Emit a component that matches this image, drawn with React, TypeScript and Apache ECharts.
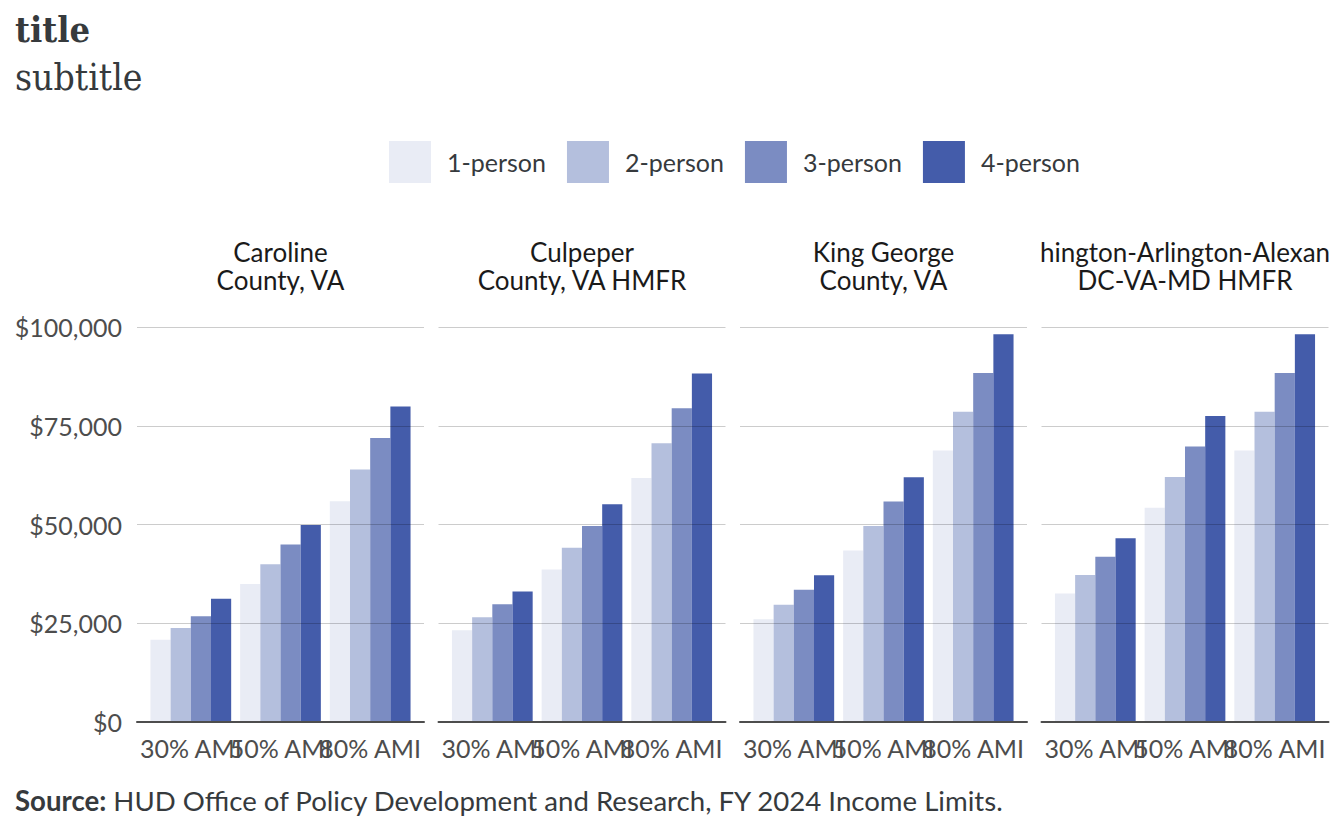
import React, { useEffect, useRef } from "react";
import * as echarts from "echarts";

const categories = ["30% AMI", "50% AMI", "80% AMI"];
const persons = ["1-person", "2-person", "3-person", "4-person"];
const personColors = ["#e9ecf5", "#b4bfdd", "#7b8cc2", "#445caa"];
const areaLabels = [
  "Caroline\nCounty, VA",
  "Culpeper\nCounty, VA HMFR",
  "King George\nCounty, VA",
  "hington-Arlington-Alexan\nDC-VA-MD HMFR",
];
const yTicks = [0, 25000, 50000, 75000, 100000];

// values per person: [30% AMI, 50% AMI, 80% AMI]
const carolineValues = [
  [20800, 34950, 55900],
  [23800, 39950, 63900],
  [26800, 44950, 71900],
  [31200, 49900, 79850],
];
const culpeperValues = [
  [23200, 38600, 61800],
  [26500, 44100, 70600],
  [29800, 49650, 79450],
  [33050, 55150, 88250],
];
const kingGeorgeValues = [
  [26000, 43400, 68750],
  [29700, 49600, 78550],
  [33450, 55800, 88350],
  [37150, 61950, 98150],
];
const washingtonValues = [
  [32550, 54250, 68750],
  [37200, 62000, 78550],
  [41850, 69750, 88350],
  [46500, 77450, 98150],
];
const areaValues = [carolineValues, culpeperValues, kingGeorgeValues, washingtonValues];

const FONT = "Lato, 'Noto Sans', sans-serif";
const SERIF = "'DejaVu Serif Condensed', 'DejaVu Serif', serif";

function buildOption() {
  const panelLeft0 = 137;
  const pitch = 301.5;
  const panelW = 287;
  const top = 327;
  const h = 395;
  const unit = panelW / 3.2;

  const grid: any[] = [];
  const xAxis: any[] = [];
  const yAxis: any[] = [];
  const series: any[] = [];
  const graphic: any[] = [];

  areaLabels.forEach((_, i) => {
    grid.push({ left: panelLeft0 + i * pitch, top, width: panelW, height: h });
  });
  areaLabels.forEach((_, i) => {
    grid.push({ left: panelLeft0 + i * pitch + unit * 0.1, top, width: unit * 3, height: h });
  });

  areaLabels.forEach((label, i) => {
    xAxis.push({
      gridIndex: i,
      type: "value",
      min: 0,
      max: 1,
      z: 5,
      axisLine: { show: true, onZero: false, lineStyle: { color: "#4d4d4d", width: 2 } },
      axisTick: { show: false },
      axisLabel: { show: false },
      splitLine: { show: false },
    });
    yAxis.push({
      gridIndex: i,
      type: "value",
      min: yTicks[0],
      max: yTicks[yTicks.length - 1],
      interval: 25000,
      z: 5,
      axisLine: { show: false },
      axisTick: { show: false },
      axisLabel: {
        show: i === 0,
        fontFamily: FONT,
        fontSize: 25,
        color: "#4d4d4d",
        margin: 15,
        formatter: (v: number) => "$" + v.toLocaleString("en-US"),
      },
      splitLine: { show: true, lineStyle: { color: "rgba(0,0,0,0.2)", width: 1 } },
    });
    label.split("\n").forEach((line, li) => {
      graphic.push({
        type: "text",
        x: panelLeft0 + i * pitch + panelW / 2,
        y: 252 + li * 28,
        style: {
          text: line,
          align: "center",
          verticalAlign: "middle",
          fontFamily: FONT,
          fontSize: 26,
          lineHeight: 26,
          fill: "#1a1a1a",
        },
      });
    });
  });

  areaLabels.forEach((_, i) => {
    xAxis.push({
      gridIndex: 4 + i,
      type: "category",
      data: categories,
      axisLine: { show: false },
      axisTick: { show: false },
      axisLabel: { interval: 0, fontFamily: FONT, fontSize: 25, color: "#4d4d4d", margin: 13 },
      splitLine: { show: false },
    });
    yAxis.push({ gridIndex: 4 + i, type: "value", min: 0, max: 100000, show: false, splitLine: { show: false } });
    areaValues[i].forEach((vals, p) => {
      series.push({
        type: "bar",
        name: persons[p],
        xAxisIndex: 4 + i,
        yAxisIndex: 4 + i,
        data: vals,
        barWidth: (unit * 0.9) / 4,
        barGap: "0%",
        itemStyle: { color: personColors[p] },
      });
    });
  });

  graphic.push(
    {
      type: "text",
      x: 15,
      y: 29,
      style: {
        text: "title",
        verticalAlign: "middle",
        fontFamily: SERIF,
        fontWeight: "bold",
        fontSize: 36,
        fill: "#363a3d",
      },
    },
    {
      type: "text",
      x: 15,
      y: 77,
      style: {
        text: "subtitle",
        verticalAlign: "middle",
        fontFamily: SERIF,
        fontSize: 37,
        fill: "#363a3d",
      },
    },
    {
      type: "text",
      x: 15,
      y: 800,
      style: {
        text: "{b|Source:} HUD Office of Policy Development and Research, FY 2024 Income Limits.",
        verticalAlign: "middle",
        fontFamily: FONT,
        fontSize: 27.6,
        fill: "#363a3d",
        rich: { b: { fontFamily: FONT, fontSize: 27.6, fontWeight: "bold", fill: "#363a3d" } },
      },
    }
  );

  return {
    animation: false,
    backgroundColor: "#ffffff",
    legend: {
      data: persons,
      left: 389,
      top: 141,
      padding: 0,
      itemWidth: 42,
      itemHeight: 42,
      itemGap: 21,
      icon: "rect",
      textStyle: { fontFamily: FONT, fontSize: 25, color: "#363a3d", padding: [0, 0, 0, 11] },
    },
    grid,
    xAxis,
    yAxis,
    series,
    graphic,
  };
}

export default function App() {
  const ref = useRef<HTMLDivElement>(null);
  useEffect(() => {
    const chart = echarts.init(ref.current!, null, { renderer: "svg" });
    chart.setOption(buildOption() as any);
    return () => chart.dispose();
  }, []);
  return (
    <div
      ref={ref}
      style={{ position: "absolute", left: 0, top: 0, width: 1344, height: 830 }}
    />
  );
}
